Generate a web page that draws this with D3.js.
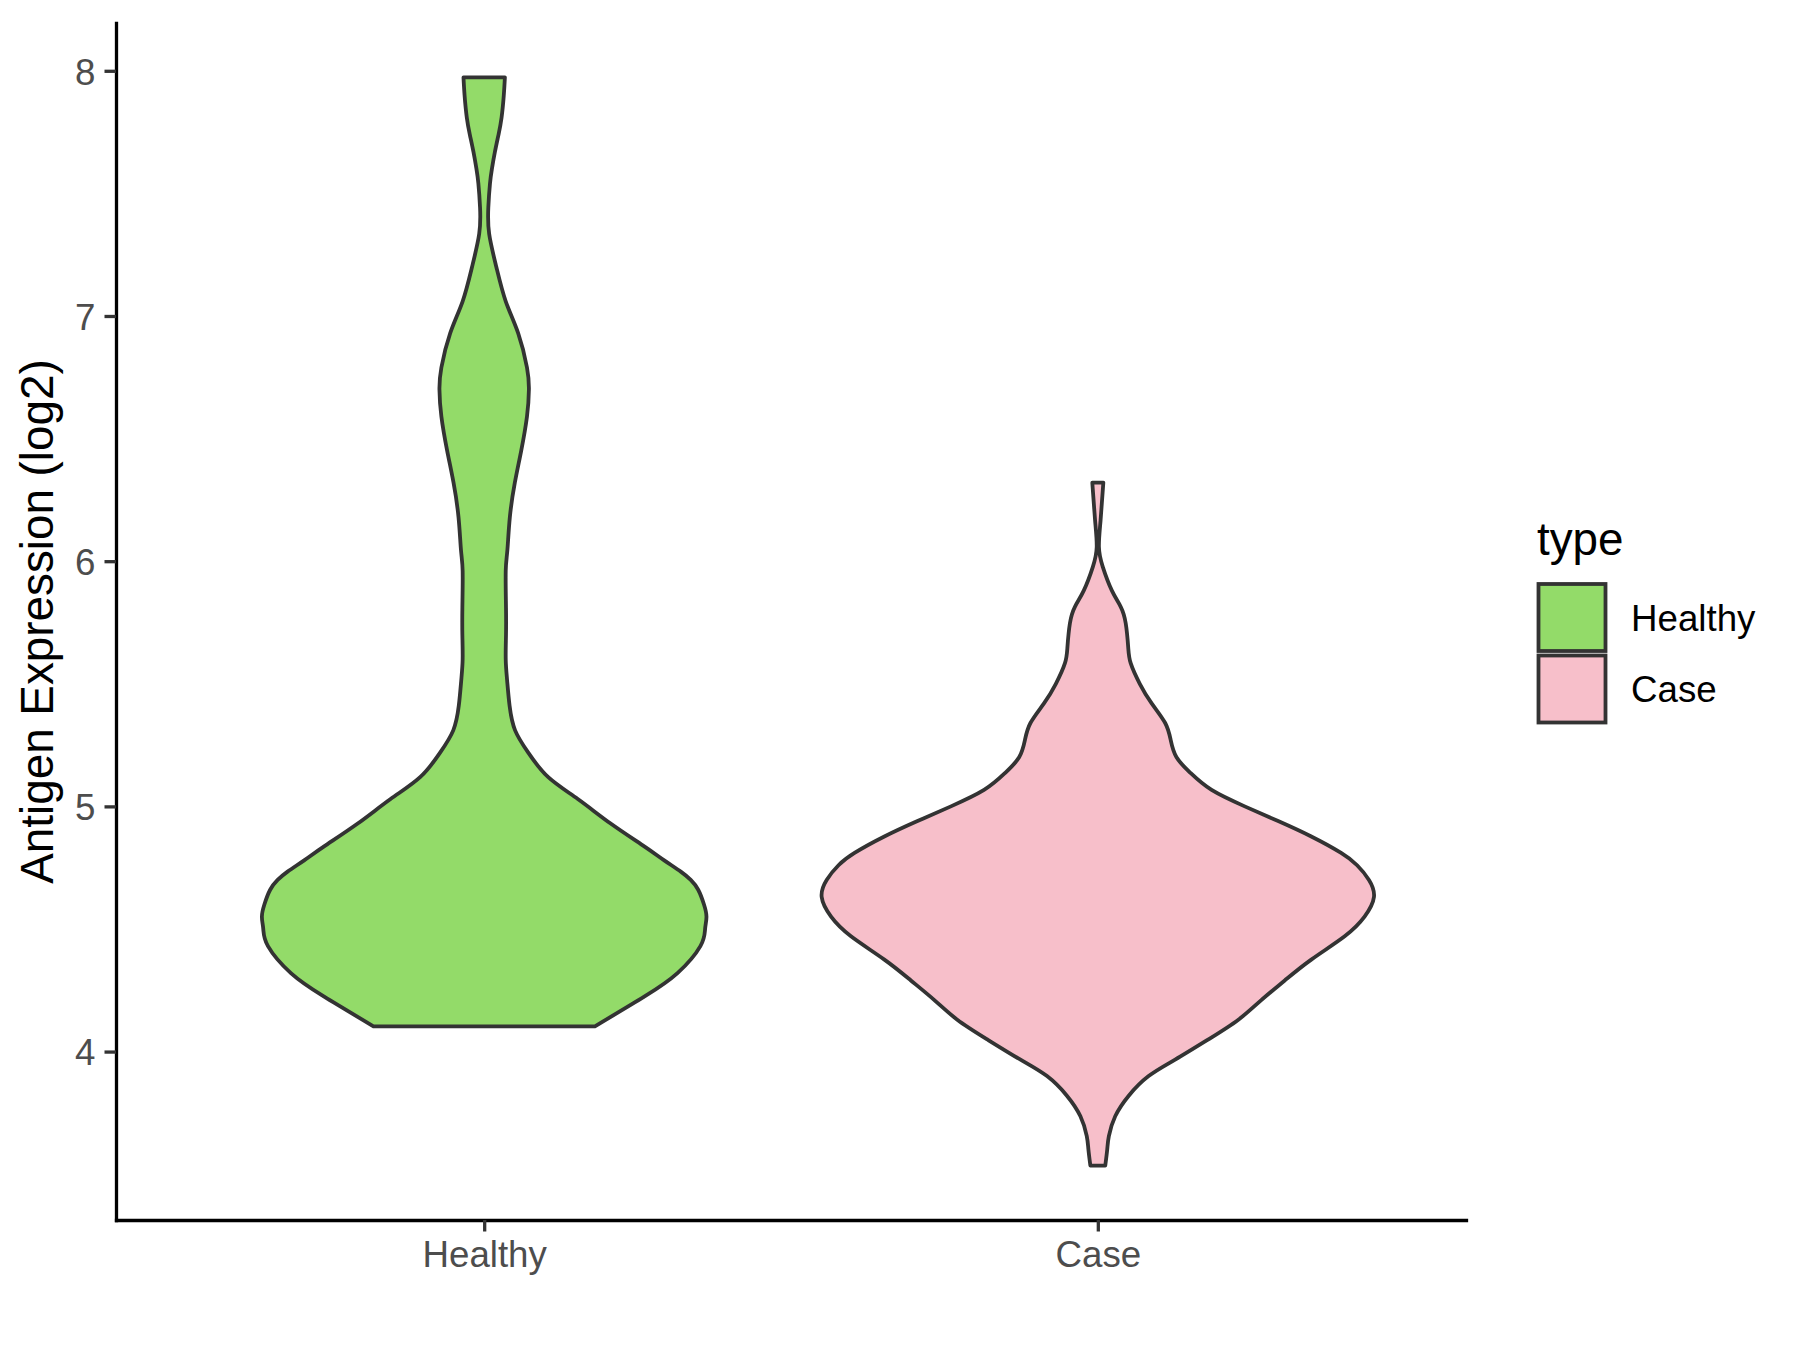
<!DOCTYPE html>
<html>
<head>
<meta charset="utf-8">
<script src="https://cdn.jsdelivr.net/npm/d3@7"></script>
<style>
  html, body { margin: 0; padding: 0; background: #fff; }
  svg { display: block; font-family: "Liberation Sans", Arial, Helvetica, sans-serif; }
</style>
</head>
<body>
<script>
// ---------------- data ----------------
const categories = ["Healthy", "Case"];
const yTicks = [4, 5, 6, 7, 8];

// violin outlines: expression value (log2) and relative density (1 = widest violin)
const healthyExpr = [4.103, 4.225, 4.32, 4.43, 4.50, 4.55, 4.60, 4.66, 4.70, 4.734, 4.78, 4.836, 4.93, 5.03, 5.12, 5.22, 5.31, 5.41, 5.515, 5.60, 5.70, 5.81, 5.96, 6.045, 6.18, 6.32, 6.45, 6.59, 6.70, 6.79, 6.93, 7.06, 7.20, 7.335, 7.443, 7.54, 7.60, 7.67, 7.74, 7.81, 7.90, 7.973];
const healthyDensity = [0.401, 0.581, 0.700, 0.783, 0.800, 0.805, 0.796, 0.775, 0.748, 0.712, 0.652, 0.581, 0.458, 0.339, 0.231, 0.159, 0.112, 0.092, 0.083, 0.078, 0.079, 0.079, 0.078, 0.084, 0.093, 0.111, 0.134, 0.155, 0.162, 0.155, 0.123, 0.078, 0.044, 0.018, 0.015, 0.021, 0.028, 0.039, 0.052, 0.063, 0.071, 0.075];

const caseExpr = [3.535, 3.60, 3.655, 3.736, 3.82, 3.90, 3.967, 4.05, 4.13, 4.21, 4.29, 4.375, 4.47, 4.55, 4.63, 4.70, 4.76, 4.81, 4.877, 4.94, 5.00, 5.067, 5.136, 5.20, 5.27, 5.34, 5.42, 5.50, 5.584, 5.65, 5.747, 5.814, 5.88, 5.977, 6.058, 6.167, 6.32];
const caseDensity = [0.027, 0.034, 0.040, 0.063, 0.112, 0.184, 0.280, 0.401, 0.509, 0.592, 0.677, 0.773, 0.894, 0.966, 1.0, 0.982, 0.939, 0.881, 0.773, 0.653, 0.532, 0.412, 0.336, 0.285, 0.264, 0.244, 0.195, 0.152, 0.119, 0.110, 0.101, 0.083, 0.051, 0.018, 0.004, 0.010, 0.020];

const fillColors = { Healthy: "#93DB69", Case: "#F7BFCA" };

// ---------------- layout ----------------
const W = 1800, H = 1350;
const panel = { left: 116, right: 1466, top: 23, bottom: 1220 };

const svg = d3.select("body").append("svg").attr("width", W).attr("height", H);

const allVals = healthyExpr.concat(caseExpr);
const vmin = d3.min(allVals), vmax = d3.max(allVals);
const pad = (vmax - vmin) * 0.05;

const y = d3.scaleLinear().domain([vmin - pad, vmax + pad]).range([panel.bottom, panel.top]);
const x = d3.scalePoint().domain(categories).range([panel.left, panel.right]).padding(0.6);
const w = d3.scaleLinear().domain([0, 1]).range([0, x.step() * 0.45]);

const violins = [
  { cat: "Healthy", pts: healthyExpr.map((v, i) => ({ v, d: healthyDensity[i] })) },
  { cat: "Case", pts: caseExpr.map((v, i) => ({ v, d: caseDensity[i] })) }
];

violins.forEach(vi => {
  const cx = x(vi.cat);
  const area = d3.area()
    .y(d => y(d.v))
    .x0(d => cx - w(d.d))
    .x1(d => cx + w(d.d))
    .curve(d3.curveNatural);
  svg.append("path")
    .datum(vi.pts)
    .attr("d", area)
    .attr("fill", fillColors[vi.cat])
    .attr("stroke", "#333333")
    .attr("stroke-width", 3.8)
    .attr("stroke-linejoin", "round");
});

// ---------------- axes ----------------
const yAxis = d3.axisLeft(y).tickValues(yTicks).tickSize(11.5).tickSizeOuter(0).tickPadding(9).tickFormat(d3.format("d"));
const gy = svg.append("g").attr("transform", `translate(${panel.left},0)`).call(yAxis);
const xAxis = d3.axisBottom(x).tickSize(11.5).tickSizeOuter(0).tickPadding(9);
const gx = svg.append("g").attr("transform", `translate(0,${panel.bottom})`).call(xAxis);

[gy, gx].forEach(g => {
  g.select(".domain").attr("stroke", "#000").attr("stroke-width", 3.3).attr("stroke-linecap", "square");
  g.selectAll(".tick line").attr("stroke", "#333333").attr("stroke-width", 3.3);
  g.selectAll(".tick text").attr("fill", "#4D4D4D").style("font-size", "36.7px");
});
gy.selectAll(".tick text").attr("dy", "0.36em");
gx.selectAll(".tick text").attr("dy", "0.72em");

// y title
svg.append("text")
  .attr("transform", `translate(53,${(panel.top + panel.bottom) / 2}) rotate(-90)`)
  .attr("text-anchor", "middle")
  .style("font-size", "45.8px")
  .attr("fill", "#000")
  .text("Antigen Expression (log2)");

// ---------------- legend ----------------
const lg = svg.append("g");
lg.append("text").attr("x", 1537).attr("y", 555).style("font-size", "45.8px").attr("fill", "#000").text("type");
categories.forEach((c, i) => {
  const top = 584 + i * 71.5;
  lg.append("rect").attr("x", 1538.5).attr("y", top).attr("width", 67).attr("height", 67)
    .attr("fill", fillColors[c]).attr("stroke", "#333333").attr("stroke-width", 3.8);
  lg.append("text").attr("x", 1631).attr("y", top + 33.5).attr("dy", "0.36em")
    .style("font-size", "36.7px").attr("fill", "#000").text(c);
});
</script>
</body>
</html>
